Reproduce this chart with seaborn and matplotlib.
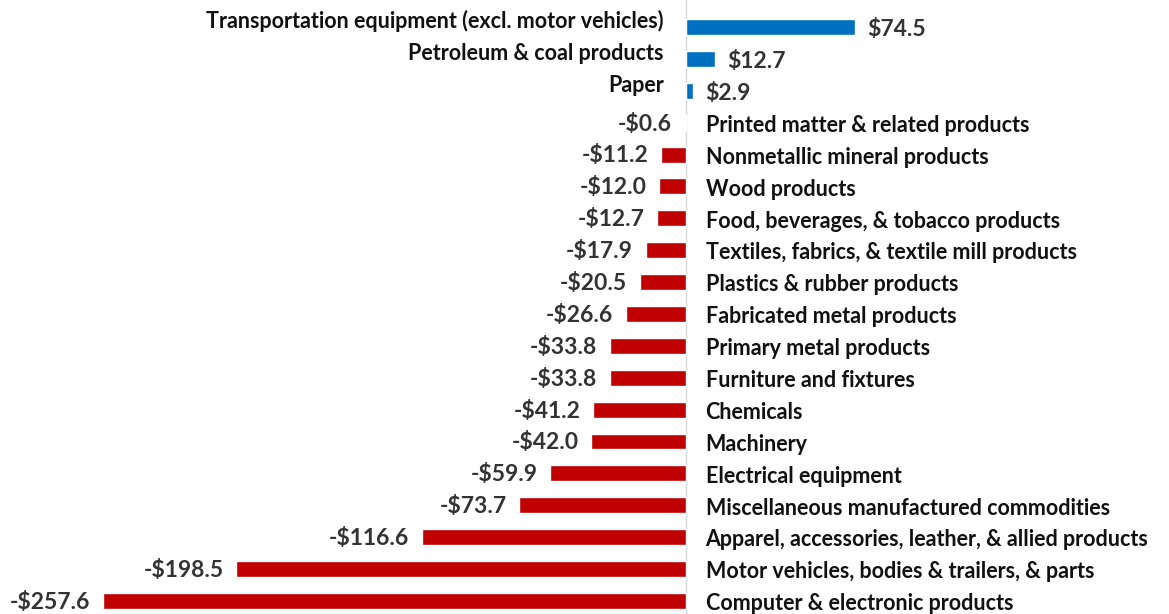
import pandas as pd
import matplotlib.pyplot as plt
import seaborn as sns

# === Data ===
categories = [
    "Transportation equipment (excl. motor vehicles)",
    "Petroleum & coal products",
    "Paper",
    "Printed matter & related products",
    "Nonmetallic mineral products",
    "Wood products",
    "Food, beverages, & tobacco products",
    "Textiles, fabrics, & textile mill products",
    "Plastics & rubber products",
    "Fabricated metal products",
    "Primary metal products",
    "Furniture and fixtures",
    "Chemicals",
    "Machinery",
    "Electrical equipment",
    "Miscellaneous manufactured commodities",
    "Apparel, accessories, leather, & allied products",
    "Motor vehicles, bodies & trailers, & parts",
    "Computer & electronic products",
]
values = [74.5, 12.7, 2.9, -0.6, -11.2, -12.0, -12.7, -17.9, -20.5, -26.6,
          -33.8, -33.8, -41.2, -42.0, -59.9, -73.7, -116.6, -198.5, -257.6]

df = pd.DataFrame({"category": categories, "value": values})
df["sign"] = ["pos" if v > 0 else "neg" for v in df["value"]]

sns.set_style("white")
plt.rcParams['font.family'] = ['Lato', 'DejaVu Sans']

fig = plt.figure(figsize=(11.69, 6.14), dpi=100)
ax = fig.add_axes([0, 0, 1, 1])

sns.barplot(data=df, x="value", y="category", hue="sign",
            palette={"pos": "#0070C0", "neg": "#C00000"}, saturation=1,
            orient="h", width=0.5, dodge=False, legend=False, ax=ax)

ax.set_xlim(-302.9, 213.2)
ax.set_ylim(18.41, -0.847)
ax.axvline(0, color="#D9D9D9", lw=1, zorder=0)

fs = 15.5
fs_val = 16.5
for i, v in enumerate(values):
    txt = f"-${abs(v):.1f}" if v < 0 else f"${v:.1f}"
    if v > 0:
        ax.annotate(categories[i], (0, i), xytext=(-16, 4), textcoords="offset points",
                    ha="right", va="center", fontsize=fs, fontweight="bold", color="#111111")
        ax.annotate(txt, (v, i), xytext=(9, -2), textcoords="offset points",
                    ha="left", va="center", fontsize=fs_val, fontweight="bold", color="#333333")
    else:
        ax.annotate(categories[i], (0, i), xytext=(14, -2), textcoords="offset points",
                    ha="left", va="center", fontsize=fs, fontweight="bold", color="#111111")
        ax.annotate(txt, (v, i), xytext=(-9, -1), textcoords="offset points",
                    ha="right", va="center", fontsize=fs_val, fontweight="bold", color="#333333")

ax.set_xlabel("")
ax.set_ylabel("")
ax.set_xticks([])
ax.set_yticks([])
sns.despine(ax=ax, left=True, bottom=True)

fig.savefig("out.png", dpi=100)
